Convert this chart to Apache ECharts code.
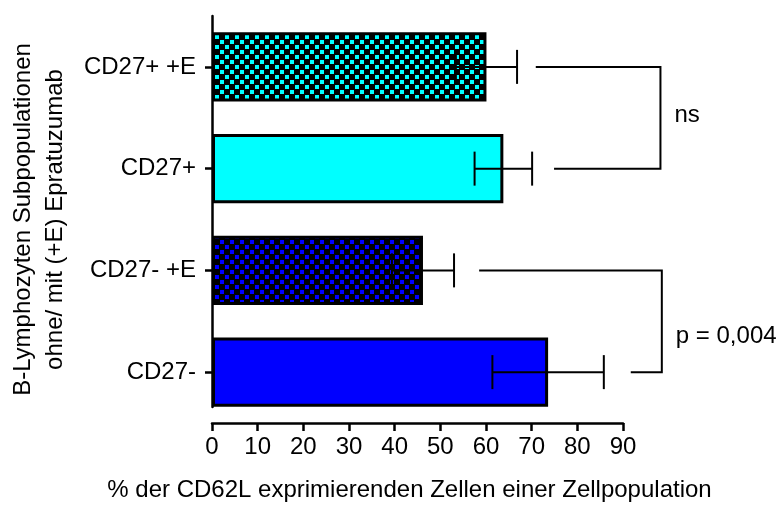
<!DOCTYPE html>
<html>
<head>
<meta charset="utf-8">
<script src="https://cdn.jsdelivr.net/npm/echarts@6/dist/echarts.min.js"></script>
<style>
  html, body { margin: 0; background: #fff; }
  #chart { width: 780px; height: 507px; }
</style>
</head>
<body>
<div id="chart"></div>
<script>
// bottom to top, as drawn on the category axis
const categories = ['CD27-', 'CD27- +E', 'CD27+', 'CD27+ +E'];
const means = [73.6, 46.2, 63.8, 60.1];
const errors = [12.2, 6.8, 6.3, 6.7];
const xTicks = [0, 90, 10]; // min, max, interval

// significance brackets: upper category, lower category, where each arm starts, right edge
const bracketCats = [[3, 2], [1, 0]];
const bracketTopStart = [70.9, 58.5];
const bracketBottomStart = [74.9, 91.7];
const bracketRight = [98.2, 98.5];
const bracketLabels = ['ns', 'p = 0,004'];

const FONT = '"Liberation Sans", Arial, sans-serif';
const FS = 24;

function checker(fg) {
  const c = document.createElement('canvas');
  c.width = 10;
  c.height = 10;
  const ctx = c.getContext('2d');
  ctx.fillStyle = '#000';
  ctx.fillRect(0, 0, 10, 10);
  ctx.fillStyle = fg;
  ctx.fillRect(0, 0, 4, 4);
  ctx.fillRect(5, 5, 4, 4);
  return c;
}

const fills = [
  '#0000ff',
  { image: checker('#0000ff'), repeat: 'repeat' },
  '#00ffff',
  { image: checker('#00ffff'), repeat: 'repeat' },
];

const chart = echarts.init(document.getElementById('chart'));

const labelShift = [-2, 15];

chart.setOption({
  animation: false,
  grid: [
    { left: 212, right: 157, top: 16, bottom: 84, outerBoundsMode: 'none', containLabel: false },
    { left: 212, right: 157, top: 16, bottom: 100, outerBoundsMode: 'none', containLabel: false },
  ],
  xAxis: [
    {
      type: 'value',
      gridIndex: 0,
      min: xTicks[0],
      max: xTicks[1],
      interval: xTicks[2],
      name: '% der CD62L exprimierenden Zellen einer Zellpopulation',
      nameLocation: 'middle',
      nameGap: 55,
      nameTextStyle: { fontSize: FS, color: '#000', fontFamily: FONT, padding: [0, 16, 0, 0] },
      axisLine: { show: true, lineStyle: { color: '#000', width: 2.5 } },
      axisTick: { show: true, length: 8, lineStyle: { color: '#000', width: 2.5 } },
      axisLabel: { fontSize: FS, color: '#000', fontFamily: FONT, margin: 12 },
      splitLine: { show: false },
    },
    { type: 'value', gridIndex: 1, show: false, min: 0, max: 1 },
  ],
  yAxis: [
    {
      type: 'category',
      gridIndex: 0,
      data: categories,
      name: 'B-Lymphozyten Subpopulationen\nohne/ mit (+E) Epratuzumab',
      nameLocation: 'middle',
      nameRotate: 90,
      nameGap: 141,
      nameTextStyle: { fontSize: FS, color: '#000', fontFamily: FONT, lineHeight: 32 },
      axisLine: { show: false },
      axisTick: { show: true, alignWithLabel: true, length: 7, lineStyle: { color: '#000', width: 2.5 } },
      axisLabel: { fontSize: FS, color: '#000', fontFamily: FONT, margin: 16 },
    },
    {
      type: 'value',
      gridIndex: 1,
      min: 0,
      max: 1,
      axisLine: { show: true, lineStyle: { color: '#000', width: 2.5 } },
      axisTick: { show: false },
      axisLabel: { show: false },
      splitLine: { show: false },
    },
  ],
  series: [
    {
      type: 'bar',
      barWidth: '68%',
      data: means.map((v, i) => ({
        value: v,
        itemStyle: { color: fills[i], borderColor: '#000', borderWidth: 3 },
      })),
    },
    {
      type: 'custom',
      z: 5,
      encode: { y: 0, x: [1, 2] },
      data: categories.map((c, i) => [i, means[i] - errors[i], means[i] + errors[i]]),
      renderItem(params, api) {
        const y = api.value(0);
        const lo = api.coord([api.value(1), y]);
        const hi = api.coord([api.value(2), y]);
        const h = 17;
        const st = { stroke: '#000', lineWidth: 2 };
        return {
          type: 'group',
          children: [
            { type: 'line', shape: { x1: lo[0], y1: lo[1], x2: hi[0], y2: hi[1] }, style: st },
            { type: 'line', shape: { x1: lo[0], y1: lo[1] - h, x2: lo[0], y2: lo[1] + h }, style: st },
            { type: 'line', shape: { x1: hi[0], y1: hi[1] - h, x2: hi[0], y2: hi[1] + h }, style: st },
          ],
        };
      },
    },
    {
      type: 'custom',
      z: 5,
      clip: false,
      encode: { y: [0, 1], x: [2, 3, 4] },
      data: bracketCats.map((p, i) => [p[0], p[1], bracketTopStart[i], bracketBottomStart[i], bracketRight[i]]),
      renderItem(params, api) {
        const i = params.dataIndex;
        const top = api.coord([api.value(2), api.value(0)]);
        const bot = api.coord([api.value(3), api.value(1)]);
        const rx = api.coord([api.value(4), api.value(0)])[0];
        const st = { stroke: '#000', lineWidth: 2 };
        return {
          type: 'group',
          children: [
            { type: 'polyline', shape: { points: [[top[0], top[1]], [rx, top[1]], [rx, bot[1]], [bot[0], bot[1]]] }, style: Object.assign({ fill: 'none' }, st) },
            {
              type: 'text',
              x: rx + 14,
              y: (top[1] + bot[1]) / 2 + labelShift[i],
              style: { text: bracketLabels[i], fill: '#000', fontSize: FS, fontFamily: FONT, verticalAlign: 'middle', align: 'left' },
            },
          ],
        };
      },
    },
  ],
});
</script>
</body>
</html>
